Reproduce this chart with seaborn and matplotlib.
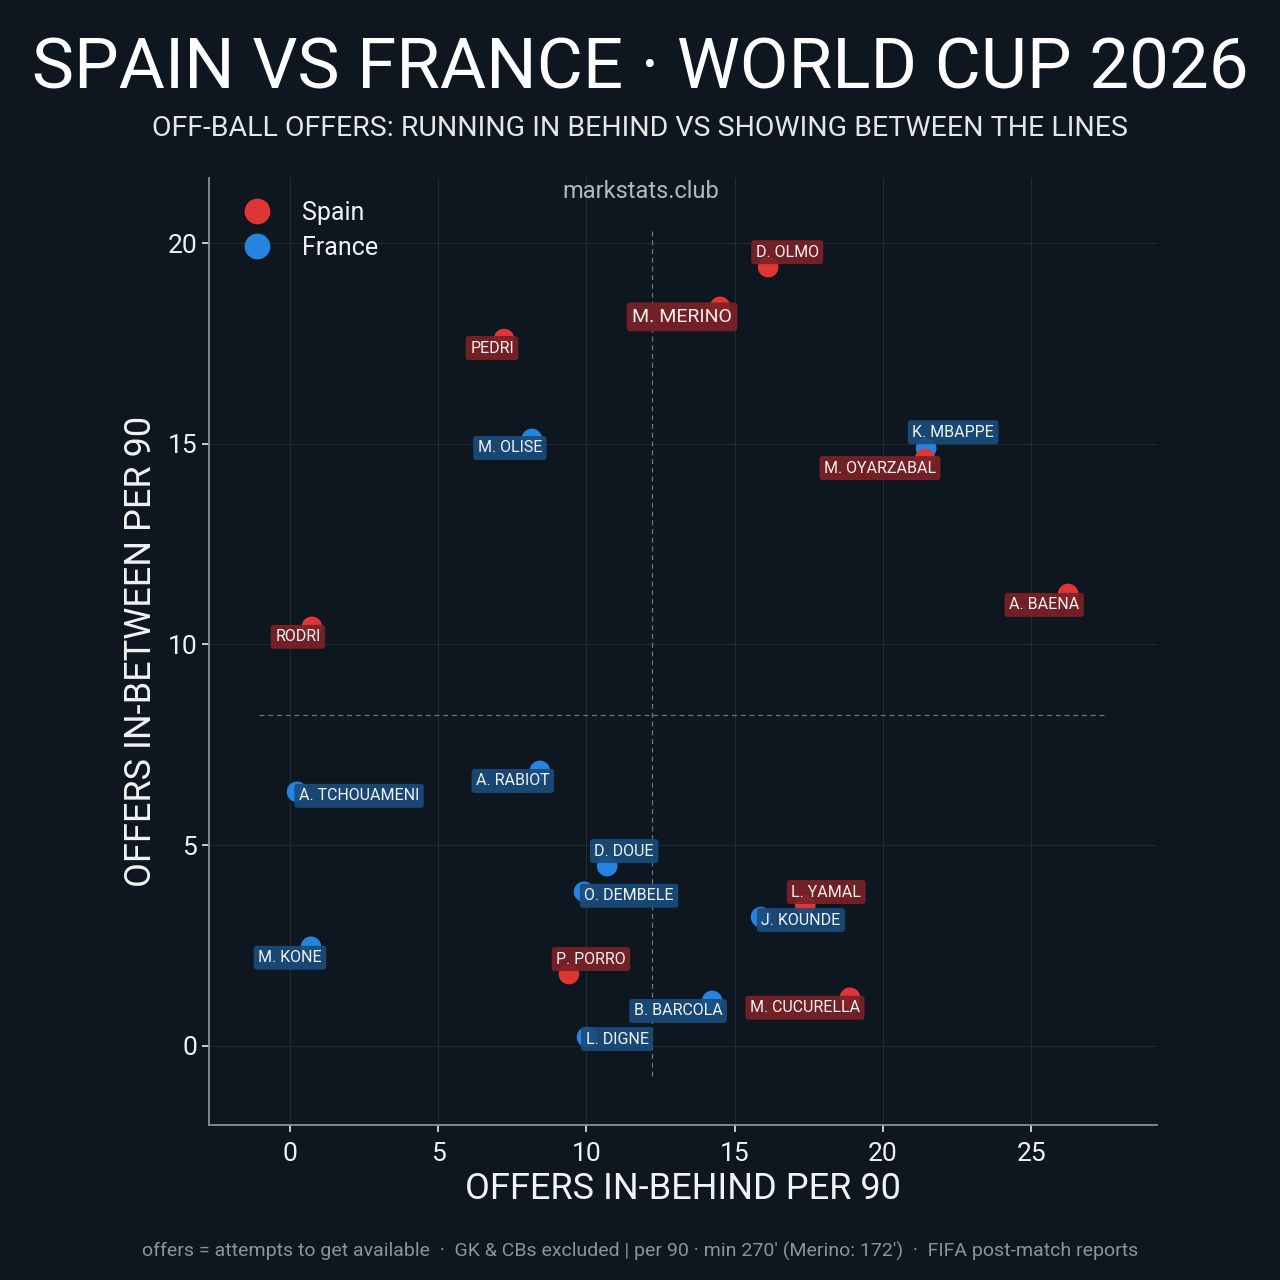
import pandas as pd
import matplotlib
matplotlib.use("Agg")
import matplotlib.pyplot as plt
import seaborn as sns

players = ['D. OLMO', 'M. MERINO', 'PEDRI', 'M. OLISE', 'K. MBAPPE', 'M. OYARZABAL',
           'A. BAENA', 'RODRI', 'A. RABIOT', 'A. TCHOUAMENI', 'D. DOUE', 'O. DEMBELE',
           'L. YAMAL', 'J. KOUNDE', 'M. KONE', 'P. PORRO', 'B. BARCOLA', 'M. CUCURELLA',
           'L. DIGNE']
teams = ['Spain', 'Spain', 'Spain', 'France', 'France', 'Spain',
         'Spain', 'Spain', 'France', 'France', 'France', 'France',
         'Spain', 'France', 'France', 'Spain', 'France', 'Spain',
         'France']
in_behind = [16.13, 14.51, 7.22, 8.16, 21.46, 21.42, 26.25, 0.74, 8.43, 0.24,
             10.70, 9.92, 17.38, 15.89, 0.71, 9.41, 14.24, 18.89, 10.02]
in_between = [19.40, 18.41, 17.61, 15.12, 14.89, 14.62, 11.26, 10.44, 6.85, 6.33,
              4.48, 3.84, 3.51, 3.21, 2.47, 1.79, 1.12, 1.20, 0.22]

# label offsets in pixels (dx, dy) relative to the point
offsets = {
    'D. OLMO': (19, 15), 'M. MERINO': (-38, -10), 'PEDRI': (-12, -9),
    'M. OLISE': (-22, -9), 'K. MBAPPE': (27, 16), 'M. OYARZABAL': (-45, -9),
    'A. BAENA': (-24, -11), 'RODRI': (-14, -10), 'A. RABIOT': (-27, -10),
    'A. TCHOUAMENI': (62, -4), 'D. DOUE': (17, 15), 'O. DEMBELE': (45, -4),
    'L. YAMAL': (21, 13), 'J. KOUNDE': (40, -3), 'M. KONE': (-21, -11),
    'P. PORRO': (22, 15), 'B. BARCOLA': (-34, -10), 'M. CUCURELLA': (-45, -10),
    'L. DIGNE': (30, -2),
}

df = pd.DataFrame({'player': players, 'team': teams,
                   'behind': in_behind, 'between': in_between})

BG = '#0e1620'
RED = '#e03535'
BLUE = '#2584e0'
palette = {'Spain': RED, 'France': BLUE}
box_col = {'Spain': '#7a2226', 'France': '#1a4c7c'}

sns.set_theme(style='dark')
plt.rcParams['font.family'] = ['Roboto', 'DejaVu Sans']

fig = plt.figure(figsize=(12.8, 12.8), dpi=100, facecolor=BG)
ax = fig.add_axes([0.1633, 0.1211, 0.7407, 0.7398])
ax.set_facecolor(BG)

# mean reference lines
mx, my = df['behind'].mean(), df['between'].mean()
xr = df['behind'].max() - df['behind'].min()
yr = df['between'].max() - df['between'].min()
ax.vlines(mx, df['between'].min() - 0.05 * yr, df['between'].max() + 0.05 * yr,
          colors='#6b7580', linestyles=(0, (4, 3)), linewidth=0.9, zorder=1)
ax.hlines(my, df['behind'].min() - 0.05 * xr, df['behind'].max() + 0.05 * xr,
          colors='#6b7580', linestyles=(0, (4, 3)), linewidth=0.9, zorder=1)

sns.scatterplot(data=df, x='behind', y='between', hue='team', palette=palette,
                s=220, edgecolor='none', ax=ax, zorder=3, legend=True)

for _, r in df.iterrows():
    dx, dy = offsets[r['player']]
    big = r['player'] == 'M. MERINO'
    ax.annotate(r['player'], (r['behind'], r['between']), xytext=(dx, dy),
                textcoords='offset pixels', ha='center', va='center',
                fontsize=14 if big else 11.5, color='#f2f2f2', zorder=4,
                bbox=dict(boxstyle='round,pad=0.28,rounding_size=0.2',
                          fc=box_col[r['team']], ec='none', alpha=0.92))

ax.set_xlim(-2.73, 29.25)
ax.set_ylim(-1.97, 21.62)
ax.set_xticks([0, 5, 10, 15, 20, 25])
ax.set_yticks([0, 5, 10, 15, 20])
ax.grid(True, color='#222c37', linewidth=0.7)
ax.tick_params(colors='#e8e8e8', labelsize=19, length=5, width=1.2,
               bottom=True, left=True, labelcolor='#f0f0f0')
ax.tick_params(axis='x', pad=7)
for s in ['top', 'right']:
    ax.spines[s].set_visible(False)
for s in ['left', 'bottom']:
    ax.spines[s].set_visible(True)
    ax.spines[s].set_color('#8a9099')
    ax.spines[s].set_linewidth(1.3)

ax.set_xlabel('OFFERS IN-BEHIND PER 90', fontsize=26, color='#f2f2f2', labelpad=4)
ax.set_ylabel('OFFERS IN-BETWEEN PER 90', fontsize=26, color='#f2f2f2', labelpad=6)

leg = ax.legend(loc='upper left', frameon=False, fontsize=18, markerscale=1.25,
                handletextpad=0.8, labelspacing=0.45, borderaxespad=0.5,
                bbox_to_anchor=(0.0, 1.0))
for t in leg.get_texts():
    t.set_color('#f2f2f2')

ax.text(0.455, 0.998, 'markstats.club', transform=ax.transAxes, ha='center',
        va='top', fontsize=17, color='#b4b8bd', zorder=5)

fig.text(0.5, 0.946, 'SPAIN VS FRANCE · WORLD CUP 2026', ha='center', va='center',
         fontsize=51, color='#ffffff')
fig.text(0.5, 0.9, 'OFF-BALL OFFERS: RUNNING IN BEHIND VS SHOWING BETWEEN THE LINES',
         ha='center', va='center', fontsize=20.5, color='#e6e6e6')
fig.text(0.5, 0.022, "offers = attempts to get available  ·  GK & CBs excluded | per 90 · min 270' (Merino: 172')  ·  FIFA post-match reports",
         ha='center', va='center', fontsize=14, color='#8c939a')

fig.savefig('out.png', dpi=100, facecolor=BG)
